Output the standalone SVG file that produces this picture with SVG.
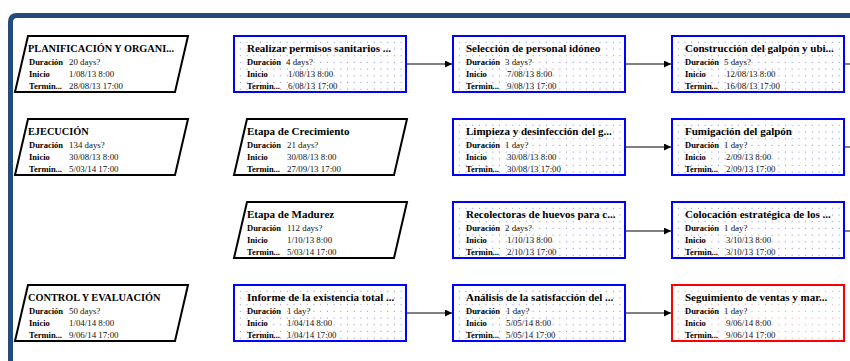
<svg xmlns="http://www.w3.org/2000/svg" width="850" height="361" viewBox="0 0 850 361">
<style>
.t{font-family:"Liberation Serif","Times New Roman",serif;font-size:11px;font-weight:bold;fill:#000}
.tc{font-family:"Liberation Serif","Times New Roman",serif;font-size:10.3px;font-weight:bold;fill:#000}
.l{font-family:"Liberation Serif","Times New Roman",serif;font-size:8.5px;font-weight:bold;fill:#000}
.v{font-family:"Liberation Serif","Times New Roman",serif;font-size:8.9px;fill:#111}
.sum{fill:#fff;stroke:#000;stroke-width:2}
.task{fill:url(#dotB);stroke:#0000ff;stroke-width:2}
.crit{fill:url(#dotR);stroke:#ff0000;stroke-width:2}
.edge{stroke:#000;stroke-width:1;fill:none}
</style>
<defs>
<pattern id="dotB" patternUnits="userSpaceOnUse" x="3" y="3" width="6.7" height="6.7">
<rect width="6.7" height="6.7" fill="#fff"/>
<circle cx="3.3" cy="3.3" r="0.6" fill="#8f8fe8"/>
</pattern>
<pattern id="dotR" patternUnits="userSpaceOnUse" x="3" y="3" width="6.7" height="6.7">
<rect width="6.7" height="6.7" fill="#fff"/>
<circle cx="3.3" cy="3.3" r="0.6" fill="#f09a9a"/>
</pattern>
<marker id="arr" markerUnits="userSpaceOnUse" markerWidth="7" markerHeight="7" refX="7" refY="3.5" orient="auto">
<path d="M0,0 L7,3.5 L0,7 z" fill="#000"/>
</marker>
<polygon id="para" points="13,0 173,0 160,56 0,56"/>
</defs>
<rect width="850" height="361" fill="#fff"/>
<path d="M10.5,361 V22 Q10.5,15.5 17,15.5 H850" fill="none" stroke="#234b7c" stroke-width="5"/>

<g id="connectors">
<line class="edge" x1="406" y1="64" x2="452" y2="64" marker-end="url(#arr)"/>
<line class="edge" x1="625" y1="64" x2="671" y2="64" marker-end="url(#arr)"/>
<line class="edge" x1="844" y1="64" x2="850" y2="64"/>
<line class="edge" x1="625" y1="147" x2="671" y2="147" marker-end="url(#arr)"/>
<line class="edge" x1="844" y1="147" x2="850" y2="147"/>
<line class="edge" x1="625" y1="231" x2="671" y2="231" marker-end="url(#arr)"/>
<line class="edge" x1="844" y1="231" x2="850" y2="231"/>
<line class="edge" x1="406" y1="313" x2="452" y2="313" marker-end="url(#arr)"/>
<line class="edge" x1="625" y1="313" x2="671" y2="313" marker-end="url(#arr)"/>
</g>

<g id="s1" transform="translate(15,36)">
<use href="#para" class="sum"/>
<text class="tc" x="13" y="16">PLANIFICACIÓN Y ORGANI...</text>
<text class="l" x="14" y="28.5">Duración</text><text class="v" x="54" y="28.5">20 days?</text>
<text class="l" x="14" y="40.5">Inicio</text><text class="v" x="54" y="40.5">1/08/13 8:00</text>
<text class="l" x="14" y="52.5">Termin...</text><text class="v" x="54" y="52.5">28/08/13 17:00</text>
</g>
<g id="t1" transform="translate(234,36)">
<rect class="task" width="172" height="56"/>
<text class="t" x="13" y="16">Realizar permisos sanitarios ...</text>
<text class="l" x="13" y="28.5">Duración</text><text class="v" x="52" y="28.5">4 days?</text>
<text class="l" x="13" y="40.5">Inicio</text><text class="v" x="54" y="40.5">1/08/13 8:00</text>
<text class="l" x="13" y="52.5">Termin...</text><text class="v" x="54" y="52.5">6/08/13 17:00</text>
</g>
<g id="t2" transform="translate(453,36)">
<rect class="task" width="172" height="56"/>
<text class="t" x="13" y="16">Selección de personal idóneo</text>
<text class="l" x="13" y="28.5">Duración</text><text class="v" x="52" y="28.5">3 days?</text>
<text class="l" x="13" y="40.5">Inicio</text><text class="v" x="54" y="40.5">7/08/13 8:00</text>
<text class="l" x="13" y="52.5">Termin...</text><text class="v" x="54" y="52.5">9/08/13 17:00</text>
</g>
<g id="t3" transform="translate(672,36)">
<rect class="task" width="172" height="56"/>
<text class="t" x="13" y="16">Construcción del galpón y ubi...</text>
<text class="l" x="13" y="28.5">Duración</text><text class="v" x="52" y="28.5">5 days?</text>
<text class="l" x="13" y="40.5">Inicio</text><text class="v" x="54" y="40.5">12/08/13 8:00</text>
<text class="l" x="13" y="52.5">Termin...</text><text class="v" x="54" y="52.5">16/08/13 17:00</text>
</g>

<g id="s2" transform="translate(15,119)">
<use href="#para" class="sum"/>
<text class="tc" x="13" y="16">EJECUCIÓN</text>
<text class="l" x="14" y="28.5">Duración</text><text class="v" x="54" y="28.5">134 days?</text>
<text class="l" x="14" y="40.5">Inicio</text><text class="v" x="54" y="40.5">30/08/13 8:00</text>
<text class="l" x="14" y="52.5">Termin...</text><text class="v" x="54" y="52.5">5/03/14 17:00</text>
</g>
<g id="s3" transform="translate(234,119)">
<use href="#para" class="sum"/>
<text class="t" x="13" y="16">Etapa de Crecimiento</text>
<text class="l" x="13" y="28.5">Duración</text><text class="v" x="53" y="28.5">21 days?</text>
<text class="l" x="13" y="40.5">Inicio</text><text class="v" x="53" y="40.5">30/08/13 8:00</text>
<text class="l" x="13" y="52.5">Termin...</text><text class="v" x="53" y="52.5">27/09/13 17:00</text>
</g>
<g id="t4" transform="translate(453,119)">
<rect class="task" width="172" height="56"/>
<text class="t" x="13" y="16">Limpieza y desinfección del g...</text>
<text class="l" x="13" y="28.5">Duración</text><text class="v" x="52" y="28.5">1 day?</text>
<text class="l" x="13" y="40.5">Inicio</text><text class="v" x="54" y="40.5">30/08/13 8:00</text>
<text class="l" x="13" y="52.5">Termin...</text><text class="v" x="54" y="52.5">30/08/13 17:00</text>
</g>
<g id="t5" transform="translate(672,119)">
<rect class="task" width="172" height="56"/>
<text class="t" x="13" y="16">Fumigación del galpón</text>
<text class="l" x="13" y="28.5">Duración</text><text class="v" x="52" y="28.5">1 day?</text>
<text class="l" x="13" y="40.5">Inicio</text><text class="v" x="54" y="40.5">2/09/13 8:00</text>
<text class="l" x="13" y="52.5">Termin...</text><text class="v" x="54" y="52.5">2/09/13 17:00</text>
</g>

<g id="s4" transform="translate(234,202)">
<use href="#para" class="sum"/>
<text class="t" x="13" y="16">Etapa de Madurez</text>
<text class="l" x="13" y="28.5">Duración</text><text class="v" x="53" y="28.5">112 days?</text>
<text class="l" x="13" y="40.5">Inicio</text><text class="v" x="53" y="40.5">1/10/13 8:00</text>
<text class="l" x="13" y="52.5">Termin...</text><text class="v" x="53" y="52.5">5/03/14 17:00</text>
</g>
<g id="t6" transform="translate(453,202)">
<rect class="task" width="172" height="56"/>
<text class="t" x="13" y="16">Recolectoras de huevos para c...</text>
<text class="l" x="13" y="28.5">Duración</text><text class="v" x="52" y="28.5">2 days?</text>
<text class="l" x="13" y="40.5">Inicio</text><text class="v" x="54" y="40.5">1/10/13 8:00</text>
<text class="l" x="13" y="52.5">Termin...</text><text class="v" x="54" y="52.5">2/10/13 17:00</text>
</g>
<g id="t7" transform="translate(672,202)">
<rect class="task" width="172" height="56"/>
<text class="t" x="13" y="16">Colocación estratégica de los ...</text>
<text class="l" x="13" y="28.5">Duración</text><text class="v" x="52" y="28.5">1 day?</text>
<text class="l" x="13" y="40.5">Inicio</text><text class="v" x="54" y="40.5">3/10/13 8:00</text>
<text class="l" x="13" y="52.5">Termin...</text><text class="v" x="54" y="52.5">3/10/13 17:00</text>
</g>

<g id="s5" transform="translate(15,285)">
<use href="#para" class="sum"/>
<text class="tc" x="13" y="16">CONTROL Y EVALUACIÓN</text>
<text class="l" x="14" y="28.5">Duración</text><text class="v" x="54" y="28.5">50 days?</text>
<text class="l" x="14" y="40.5">Inicio</text><text class="v" x="54" y="40.5">1/04/14 8:00</text>
<text class="l" x="14" y="52.5">Termin...</text><text class="v" x="54" y="52.5">9/06/14 17:00</text>
</g>
<g id="t8" transform="translate(234,285)">
<rect class="task" width="172" height="56"/>
<text class="t" x="13" y="16">Informe de la existencia total ...</text>
<text class="l" x="13" y="28.5">Duración</text><text class="v" x="53" y="28.5">1 day?</text>
<text class="l" x="13" y="40.5">Inicio</text><text class="v" x="53" y="40.5">1/04/14 8:00</text>
<text class="l" x="13" y="52.5">Termin...</text><text class="v" x="53" y="52.5">1/04/14 17:00</text>
</g>
<g id="t9" transform="translate(453,285)">
<rect class="task" width="172" height="56"/>
<text class="t" x="13" y="16">Análisis de la satisfacción del ...</text>
<text class="l" x="13" y="28.5">Duración</text><text class="v" x="53" y="28.5">1 day?</text>
<text class="l" x="13" y="40.5">Inicio</text><text class="v" x="53" y="40.5">5/05/14 8:00</text>
<text class="l" x="13" y="52.5">Termin...</text><text class="v" x="53" y="52.5">5/05/14 17:00</text>
</g>
<g id="t10" transform="translate(672,285)">
<rect class="crit" width="172" height="56"/>
<text class="t" x="13" y="16">Seguimiento de ventas y mar...</text>
<text class="l" x="13" y="28.5">Duración</text><text class="v" x="52" y="28.5">1 day?</text>
<text class="l" x="13" y="40.5">Inicio</text><text class="v" x="54" y="40.5">9/06/14 8:00</text>
<text class="l" x="13" y="52.5">Termin...</text><text class="v" x="54" y="52.5">9/06/14 17:00</text>
</g>
</svg>
